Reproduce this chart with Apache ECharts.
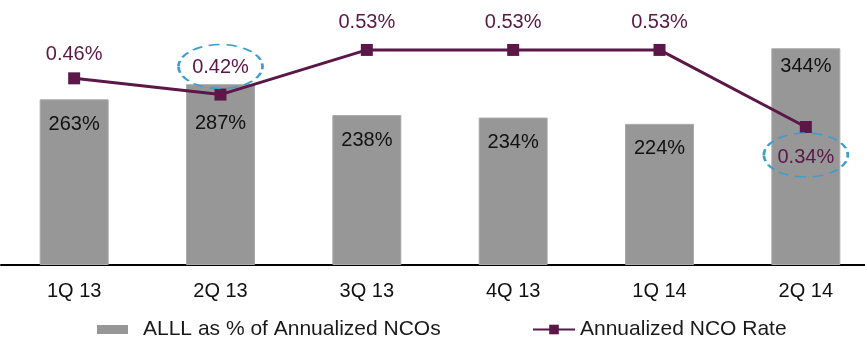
<!DOCTYPE html>
<html>
<head>
<meta charset="utf-8">
<script src="https://cdn.jsdelivr.net/npm/echarts@6/dist/echarts.min.js"></script>
<style>
  html, body { margin: 0; padding: 0; background: #fff; }
  #chart { width: 865px; height: 340px; }
</style>
</head>
<body>
<div id="chart"></div>
<script>
// quarters
var quarters = ['1Q 13', '2Q 13', '3Q 13', '4Q 13', '1Q 14', '2Q 14'];
// ALLL as % of annualized NCOs
var allValues = [263, 287, 238, 234, 224, 344];
// annualized NCO rate (%)
var ncoValues = [0.46, 0.42, 0.53, 0.53, 0.53, 0.34];
// points circled in the original
var circled = [1, 5];

var FONT = 'Liberation Sans, Arial, sans-serif';
var PURPLE = '#5a1747';
var ellipsePath = 'path://M0,1 C0,0.4477 0.4477,0 1,0 C1.5523,0 2,0.4477 2,1 C2,1.5523 1.5523,2 1,2 C0.4477,2 0,1.5523 0,1 Z';

// bar labels: pushed down under the marker on 2Q 13, tighter on 2Q 14
var barData = [];
for (var b = 0; b < allValues.length; b++) {
    barData.push({
        value: allValues[b],
        label: { distance: b === 1 ? 29 : (b === 5 ? 8 : 15) }
    });
}

var lineData = [];
for (var i = 0; i < ncoValues.length; i++) {
    var below = i === 5;
    lineData.push({
        value: ncoValues[i],
        label: {
            position: below ? 'bottom' : 'top',
            distance: below ? 14 : (i === 0 ? 8 : 11)
        }
    });
}

var marks = [];
for (var j = 0; j < circled.length; j++) {
    var idx = circled[j];
    marks.push({
        coord: [idx, ncoValues[idx]],
        symbolOffset: [0, idx === 5 ? 28 : -28]
    });
}

var myChart = echarts.init(document.getElementById('chart'));
var option = {
    animation: false,
    textStyle: { fontFamily: FONT },
    // plot runs a bit past the right edge, as in the original
    grid: { left: 1, width: 878, top: 13, bottom: 75, outerBoundsMode: 'none', containLabel: false },
    legend: [
        {
            data: ['ALLL as % of Annualized NCOs'],
            left: 92, top: 314,
            icon: 'rect',
            itemWidth: 31, itemHeight: 9,
            itemStyle: { borderWidth: 0 },
            textStyle: { fontSize: 21, color: '#1a1a1a', fontFamily: FONT, padding: [0, 0, 0, 10] }
        },
        {
            data: ['Annualized NCO Rate'],
            left: 527, top: 314,
            itemWidth: 42, itemHeight: 12,
            textStyle: { fontSize: 21, color: '#1a1a1a', fontFamily: FONT }
        }
    ],
    xAxis: {
        type: 'category',
        data: quarters,
        axisLine: { lineStyle: { color: '#000', width: 2 } },
        axisTick: { length: 6, lineStyle: { color: '#000', width: 1.5 } },
        axisLabel: { fontSize: 20, color: '#111', margin: 16, fontFamily: FONT }
    },
    yAxis: [
        { type: 'value', min: 0, max: 400, show: false, splitLine: { show: false } },
        { type: 'value', min: 0, max: 0.621, show: false, splitLine: { show: false } }
    ],
    series: [
        {
            name: 'ALLL as % of Annualized NCOs',
            type: 'bar',
            data: barData,
            barWidth: 69,
            itemStyle: { color: '#979797', borderColor: '#aaaaaa', borderWidth: 1 },
            label: {
                show: true,
                position: 'insideTop',
                fontSize: 20,
                color: '#111',
                fontFamily: FONT,
                formatter: '{c}%'
            }
        },
        {
            name: 'Annualized NCO Rate',
            type: 'line',
            yAxisIndex: 1,
            data: lineData,
            symbol: 'rect',
            symbolSize: 12,
            lineStyle: { color: PURPLE, width: 3 },
            itemStyle: { color: PURPLE },
            label: {
                show: true,
                fontSize: 20,
                color: PURPLE,
                fontFamily: FONT,
                formatter: function (p) { return p.value.toFixed(2) + '%'; }
            },
            markPoint: {
                symbol: ellipsePath,
                symbolSize: [84, 44],
                silent: true,
                itemStyle: {
                    color: 'rgba(0,0,0,0)',
                    borderColor: '#3b9dd0',
                    borderWidth: 2,
                    borderType: [8, 5]
                },
                label: { show: false },
                data: marks
            }
        }
    ]
};
myChart.setOption(option);
</script>
</body>
</html>
